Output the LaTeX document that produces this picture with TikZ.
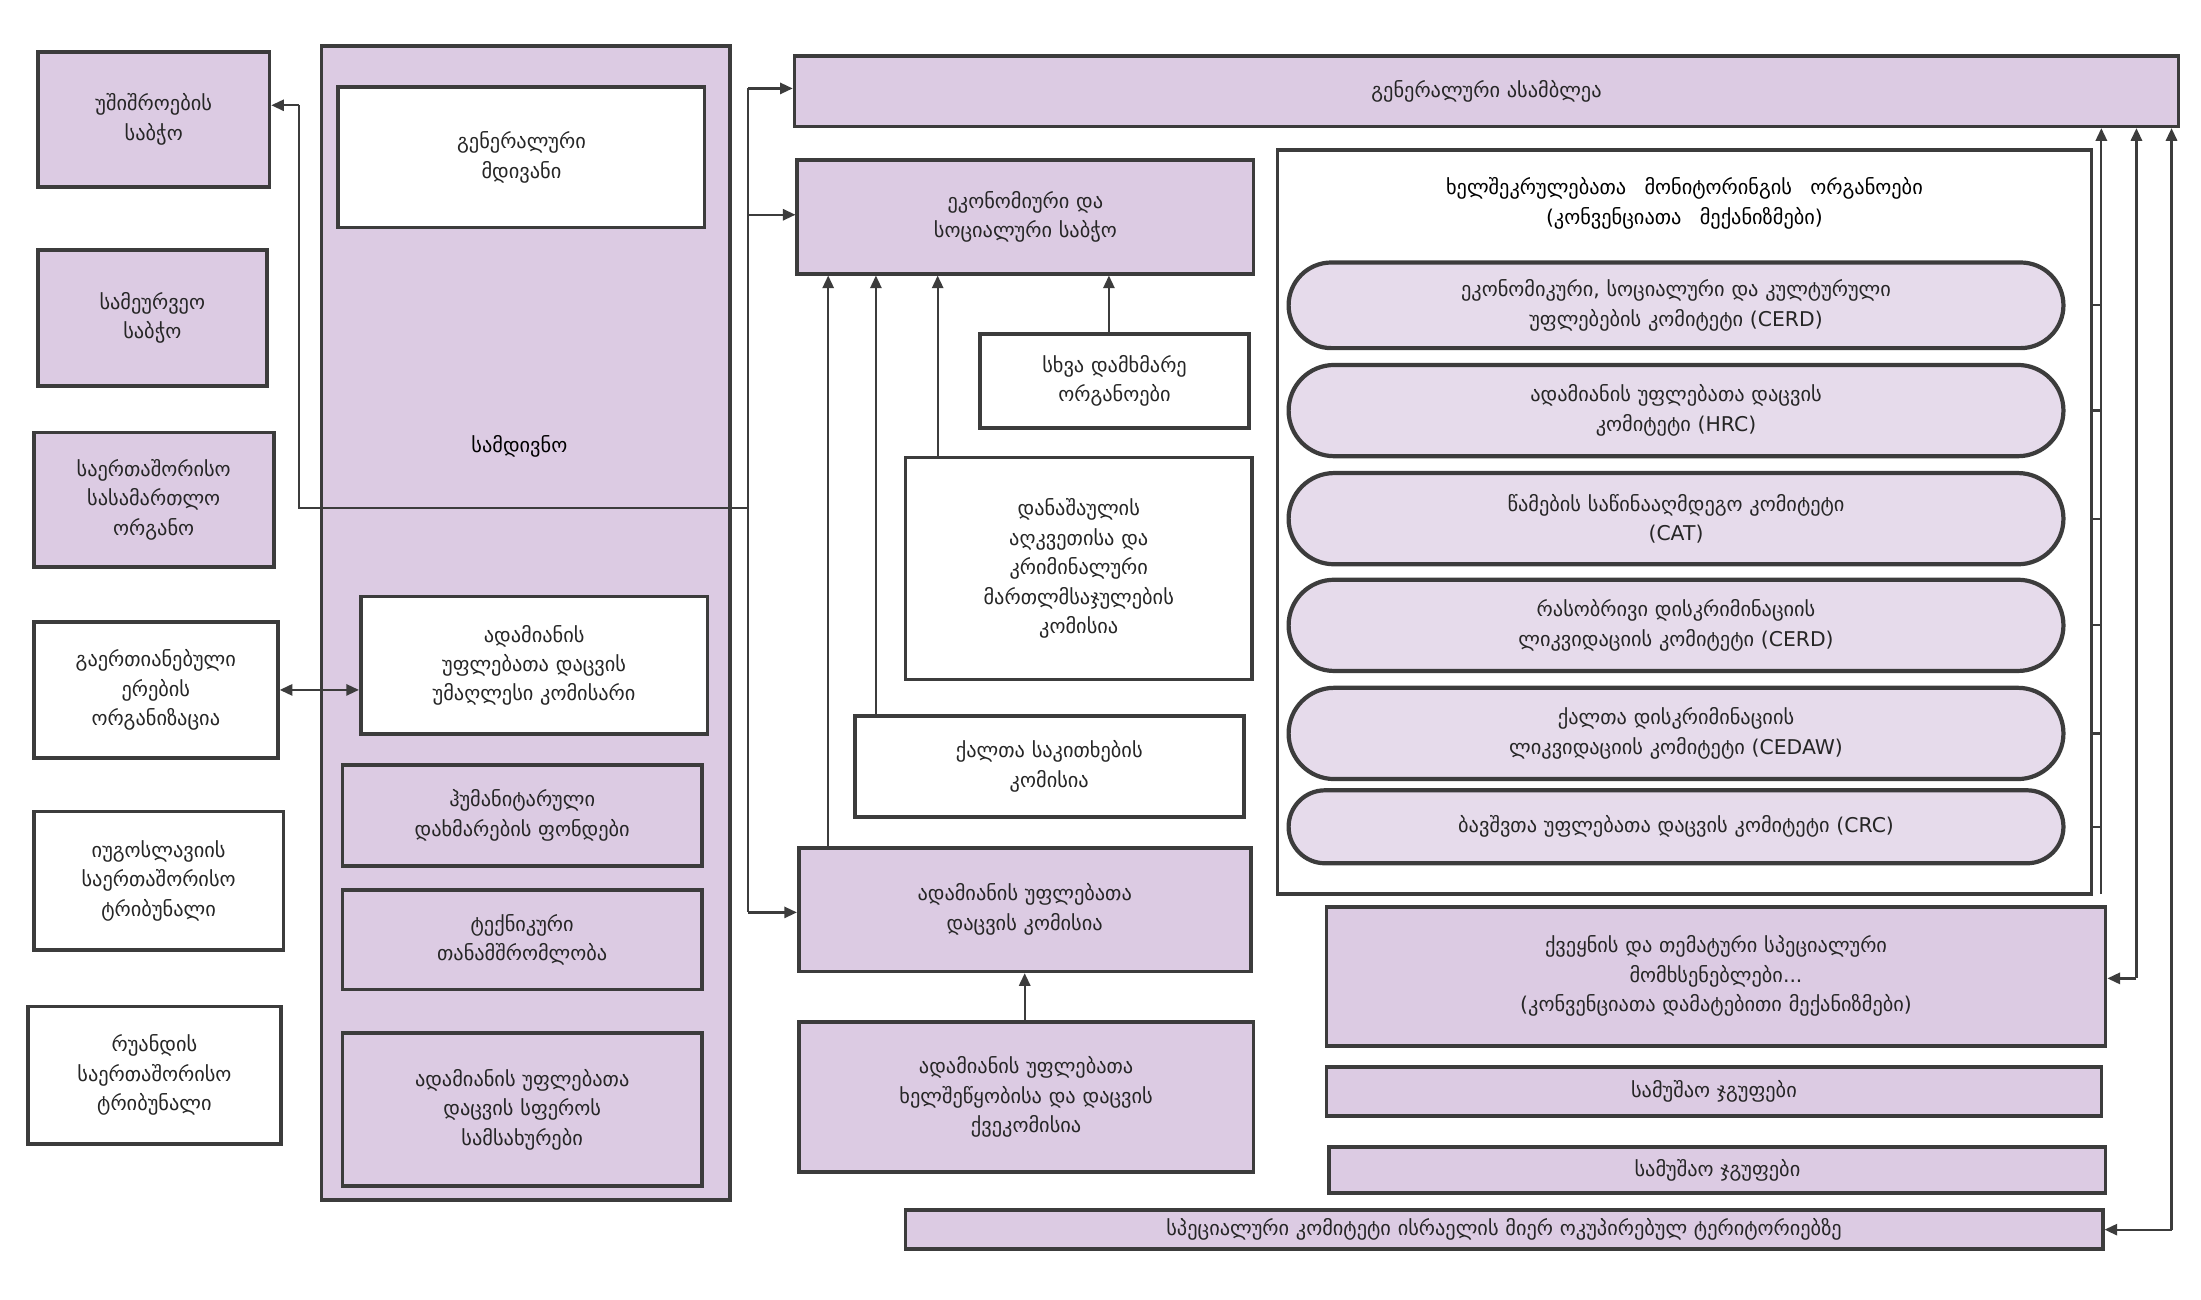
\documentclass[tikz,border=0pt]{standalone}
\usepackage{fontspec}
\setmainfont{DejaVu Sans}
\usetikzlibrary{arrows.meta,shapes.misc}
\definecolor{lav}{HTML}{DCCBE3}
\definecolor{edge}{HTML}{3C3C3C}
\newcommand\gfont{\fontsize{14.5}{21}\selectfont\spaceskip=0.9em plus 0.2em\relax}
\tikzset{
 base/.style={draw=edge,line width=2.6pt,align=center,inner sep=0pt,font=\gfont,text=black!85},
 pbox/.style={base,fill=lav},
 wbox/.style={base,fill=white},
 oval/.style={base,fill=lav!70,rounded rectangle,line width=3pt},
 conn/.style={draw=edge,line width=1.6pt},
 arr/.style={conn,-{Triangle[length=9pt,width=8pt]}},
}
\newcommand\bx[7]{\node[#6,minimum width={#4pt-#2pt},minimum height={#5pt-#3pt},text width={#4pt-#2pt-14pt}] (#1) at ({(#2+#4)/2},{(#3+#5)/2}) {#7};}
\begin{document}
\begin{tikzpicture}[x=1pt,y=-1pt]
\useasboundingbox (0,0) rectangle (1568,925.5);
\fill[white] (0,0) rectangle (1568,925.5);
% left column
\bx{secc}{27}{37}{192}{133}{pbox}{უშიშროების\\საბჭო}
\bx{trust}{27}{178}{190}{275}{pbox}{სამეურვეო\\საბჭო}
\bx{icj}{24}{308}{195}{404}{pbox}{საერთაშორისო\\სასამართლო\\ორგანო}
\bx{un}{24}{443}{198}{540}{wbox}{გაერთიანებული\\ერების\\ორგანიზაცია}
\bx{icty}{24}{578}{202}{677}{wbox}{იუგოსლავიის\\საერთაშორისო\\ტრიბუნალი}
\bx{ictr}{20}{717}{200}{815}{wbox}{რუანდის\\საერთაშორისო\\ტრიბუნალი}
% secretariat
\bx{secr}{229}{33}{520}{855}{pbox}{}
\node[font=\gfont] (secrl) at (370,318) {სამდივნო};
\bx{sg}{241}{62}{502}{162}{wbox}{გენერალური\\მდივანი}
\bx{hc}{257}{425}{504}{523}{wbox}{ადამიანის\\უფლებათა დაცვის\\უმაღლესი კომისარი}
\bx{hum}{244}{545}{500}{617}{pbox}{ჰუმანიტარული\\დახმარების ფონდები}
\bx{tech}{244}{634}{500}{705}{pbox}{ტექნიკური\\თანამშრომლობა}
\bx{serv}{244}{736}{500}{845}{pbox}{ადამიანის უფლებათა\\დაცვის სფეროს\\სამსახურები}
% middle
\bx{ga}{566}{40}{1552}{90}{pbox}{გენერალური ასამბლეა}
\bx{eco}{568}{114}{893}{195}{pbox}{ეკონომიური და\\სოციალური საბჭო}
\bx{oth}{698}{238}{890}{305}{wbox}{სხვა დამხმარე\\ორგანოები}
\bx{crime}{645}{326}{892}{484}{wbox}{დანაშაულის\\აღკვეთისა და\\კრიმინალური\\მართლმსაჯულების\\კომისია}
\bx{wom}{609}{510}{886}{582}{wbox}{ქალთა საკითხების\\კომისია}
\bx{chr}{569}{604}{891}{692}{pbox}{ადამიანის უფლებათა\\დაცვის კომისია}
\bx{sub}{569}{728}{893}{835}{pbox}{ადამიანის უფლებათა\\ხელშეწყობისა და დაცვის\\ქვეკომისია}
% right
\bx{tmb}{910}{107}{1490}{637}{wbox}{}
\node[font=\gfont,align=center] (tmbl) at (1200,145) {ხელშეკრულებათა მონიტორინგის ორგანოები\\(კონვენციათა მექანიზმები)};
\bx{e1}{918}{187}{1470}{248}{oval}{ეკონომიკური, სოციალური და კულტურული\\უფლებების კომიტეტი (CERD)}
\bx{e2}{918}{260}{1470}{325}{oval}{ადამიანის უფლებათა დაცვის\\კომიტეტი (HRC)}
\bx{e3}{918}{337}{1470}{402}{oval}{წამების საწინააღმდეგო კომიტეტი\\(CAT)}
\bx{e4}{918}{413}{1470}{478}{oval}{რასობრივი დისკრიმინაციის\\ლიკვიდაციის კომიტეტი (CERD)}
\bx{e5}{918}{490}{1470}{555}{oval}{ქალთა დისკრიმინაციის\\ლიკვიდაციის კომიტეტი (CEDAW)}
\bx{e6}{918}{563}{1470}{615}{oval}{ბავშვთა უფლებათა დაცვის კომიტეტი (CRC)}
\bx{rap}{945}{646}{1500}{745}{pbox}{ქვეყნის და თემატური სპეციალური\\მომხსენებლები...\\(კონვენციათა დამატებითი მექანიზმები)}
\bx{wg1}{945}{760}{1497}{795}{pbox}{სამუშაო ჯგუფები}
\bx{wg2}{947}{817}{1500}{850}{pbox}{სამუშაო ჯგუფები}
\bx{isr}{645}{862}{1498}{890}{pbox}{სპეციალური კომიტეტი ისრაელის მიერ ოკუპირებულ ტერიტორიებზე}
% connectors
\coordinate (vt) at (533,63);
\coordinate (vb) at (533,650);
\coordinate (vm) at (533,362);
\coordinate (lc) at (213,362);
\coordinate (lt) at (213,75);
\draw[conn] (vt) -- (vb);
\draw[arr] (vt) -- (ga.west|-vt);
\draw[arr] (533,153) -- (eco.west|-0,153);
\draw[arr] (vb) -- (chr.west|-vb);
\draw[conn] (vm) -- (lc) -- (lt);
\draw[arr] (lt) -- (secc.east|-lt);
\draw[conn,{Triangle[length=9pt,width=8pt]}-{Triangle[length=9pt,width=8pt]}] (un.east) -- (hc.west|-un.east);
\draw[arr] (chr.north-|590,0) -- (eco.south-|590,0);
\draw[arr] (wom.north-|624,0) -- (eco.south-|624,0);
\draw[arr] (crime.north-|668,0) -- (eco.south-|668,0);
\draw[arr] (oth.north-|790,0) -- (eco.south-|790,0);
\draw[arr] (sub.north-|730,0) -- (chr.south-|730,0);
% right vertical
\draw[arr] (1497,637) -- (ga.south-|1497,0);
\foreach \e in {e1,e2,e3,e4,e5,e6} \draw[conn] (tmb.east|-\e.east) -- (1497,0|-\e.east);
\draw[arr] (1522,697) -- (ga.south-|1522,0);
\draw[arr] (1522,697) -- (rap.east|-0,697);
\draw[arr] (1547,876) -- (ga.south-|1547,0);
\draw[arr] (1547,876) -- (isr.east|-0,876);
\end{tikzpicture}
\end{document}
